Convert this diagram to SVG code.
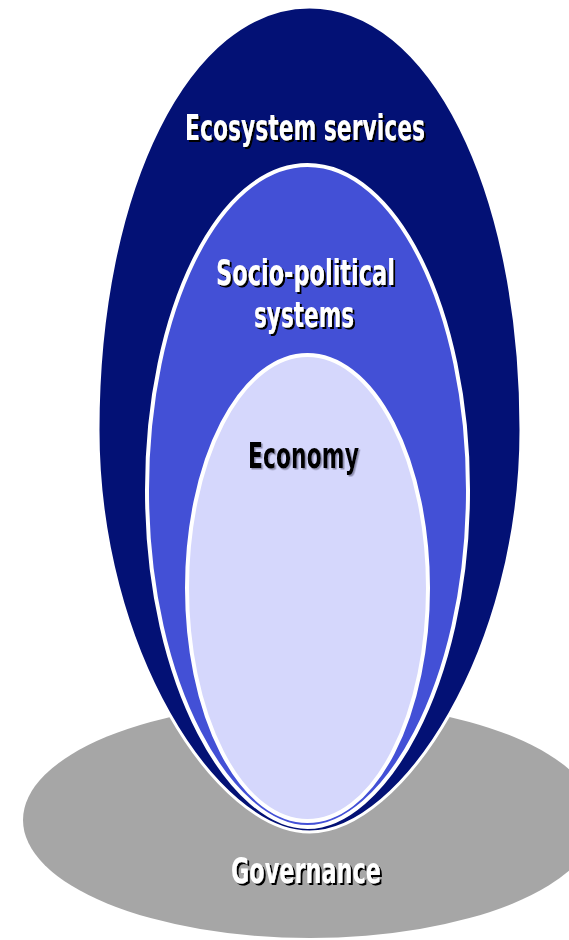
<svg xmlns="http://www.w3.org/2000/svg" width="569" height="940" viewBox="0 0 569 940">
<defs>
<filter id="shadow" x="-10%" y="-30%" width="120%" height="160%">
<feDropShadow dx="2" dy="2" stdDeviation="0.4" flood-color="#000000" flood-opacity="1"/>
</filter>
<filter id="softshadow" x="-10%" y="-30%" width="120%" height="160%">
<feDropShadow dx="1.5" dy="1.5" stdDeviation="0.4" flood-color="#7a7a9a" flood-opacity="0.8"/>
</filter>
</defs>
<style>
.lbl{font-family:"DejaVu Sans","Verdana",sans-serif;font-weight:bold;font-size:35px}
.w{fill:#ffffff;filter:url(#shadow)}
.k{fill:#000000;filter:url(#softshadow)}
.ring{stroke:#ffffff}
</style>
<rect width="569" height="940" fill="#ffffff"/>
<g id="governance">
<ellipse cx="310" cy="820" rx="287" ry="118" fill="#a6a6a6"/>
<text class="lbl w" x="231" y="883" textLength="150" lengthAdjust="spacingAndGlyphs">Governance</text>
</g>
<g id="ecosystem-services">
<path class="ring" d="M98,430 C98,189 189,7 309.5,7 C430,7 521,189 521,430 C521,650 402,832 309.5,832 C217,832 98,650 98,430 Z" fill="#031175" stroke-width="3"/>
<text class="lbl w" x="185" y="140" textLength="240" lengthAdjust="spacingAndGlyphs">Ecosystem services</text>
</g>
<g id="socio-political-systems">
<path class="ring" d="M147,490 C147,310.5 218.9,165 307.5,165 C396.1,165 468,310.5 468,490 C468,688 382,827 307.5,827 C233,827 147,688 147,490 Z" fill="#4350d6" stroke-width="4"/>
<text class="lbl w" x="216" y="285" textLength="179" lengthAdjust="spacingAndGlyphs">Socio-political</text>
<text class="lbl w" x="254" y="327" textLength="100" lengthAdjust="spacingAndGlyphs">systems</text>
</g>
<g id="economy">
<ellipse class="ring" cx="307.5" cy="588" rx="120.5" ry="233" fill="#d5d7fc" stroke-width="4"/>
<text class="lbl k" x="248" y="468" textLength="111" lengthAdjust="spacingAndGlyphs">Economy</text>
</g>
<g id="connectors"/>
</svg>
